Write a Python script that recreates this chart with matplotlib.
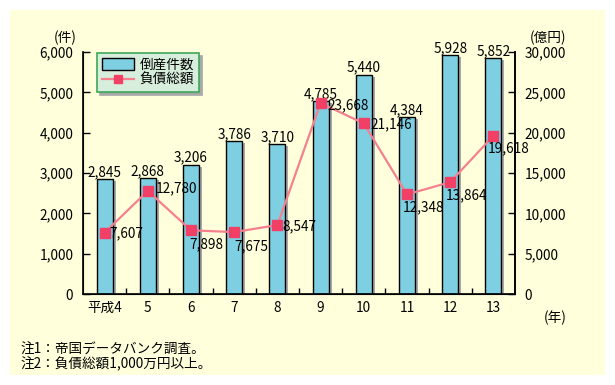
import numpy as np
import matplotlib
matplotlib.use('Agg')
import matplotlib.pyplot as plt
import matplotlib.patheffects as pe
from matplotlib.patches import Rectangle
from matplotlib.lines import Line2D
from matplotlib.ticker import FuncFormatter

plt.rcParams['font.family'] = ['Noto Sans CJK JP', 'DejaVu Sans']

# data
years = ['平成4', '5', '6', '7', '8', '9', '10', '11', '12', '13']
bankruptcies = [2845, 2868, 3206, 3786, 3710, 4785, 5440, 4384, 5928, 5852]
debt_total = [7607, 12780, 7898, 7675, 8547, 23668, 21146, 12348, 13864, 19618]

# label offsets for the line values (pixels, ha, va)
debt_label_pos = [(5, -1, 'left', 'center'), (8, 3, 'left', 'center'),
                  (-2, -7, 'left', 'top'), (0, -7, 'left', 'top'),
                  (5, -1, 'left', 'center'), (7, -2, 'left', 'center'),
                  (7, -1, 'left', 'center'), (-4, -6, 'left', 'top'),
                  (-4, -6, 'left', 'top'), (-6, -6, 'left', 'top')]

bar_color = '#7ECFE2'
line_color = '#F5808E'
marker_color = '#F23F66'
bg = '#FFFFDC'
fs = 9.8

fig = plt.figure(figsize=(6.15, 3.85), dpi=100)
fig.patch.set_facecolor('white')
fig.patches.append(Rectangle((10 / 615, 1 - 375 / 385), 595 / 615, 365 / 385,
                             transform=fig.transFigure, facecolor=bg,
                             edgecolor='none', zorder=-10))

ax = fig.add_axes([83 / 615, 1 - 294 / 385, 432 / 615, 242 / 385])
ax.set_zorder(1)
ax.set_facecolor('none')
x = np.arange(len(years))

bars = ax.bar(x, bankruptcies, width=0.37, color=bar_color, edgecolor='black',
              linewidth=1, zorder=2)
for b in bars:
    b.set_path_effects([pe.SimplePatchShadow(offset=(2.2, -1.5), shadow_rgbFace='#A8A8A8', alpha=1),
                        pe.Normal()])
for xi, v in zip(x, bankruptcies):
    ax.annotate(f'{v:,}', (xi, v), xytext=(0, 0), textcoords='offset pixels',
                ha='center', va='bottom', fontsize=fs, zorder=5)

ax.set_xlim(-0.5, len(years) - 0.5)
ax.set_ylim(0, 6000)
ax.set_yticks(np.arange(0, 6001, 1000))
ax.yaxis.set_major_formatter(FuncFormatter(lambda v, p: f'{int(v):,}'))
ax.set_xticks(x)
ax.set_xticklabels(years)
ax.set_xticks(np.arange(0.5, len(years) - 0.5, 1), minor=True)
ax.tick_params(axis='x', which='major', length=0, pad=5, labelsize=fs)
ax.tick_params(axis='x', which='minor', direction='in', length=4, width=1)
ax.tick_params(axis='y', direction='in', length=5, width=1, pad=7, labelsize=fs)
ax.spines['top'].set_visible(False)
for s in ['left', 'bottom', 'right']:
    ax.spines[s].set_linewidth(1.2)

ax2 = ax.twinx()
ax2.set_zorder(2)
ax2.set_facecolor('none')
ax2.set_ylim(0, 30000)
ax2.set_yticks(np.arange(0, 30001, 5000))
ax2.yaxis.set_major_formatter(FuncFormatter(lambda v, p: f'{int(v):,}'))
ax2.tick_params(axis='y', direction='in', length=5, width=1, pad=7, labelsize=fs)
ax2.spines['top'].set_visible(False)
ax2.spines['right'].set_linewidth(1.2)
ax2.plot(x, debt_total, color=line_color, linewidth=1.6, marker='s',
         markersize=7, markerfacecolor=marker_color, markeredgecolor=marker_color,
         zorder=3)
for xi, v, (dx, dy, ha, va) in zip(x, debt_total, debt_label_pos):
    ax2.annotate(f'{v:,}', (xi, v), xytext=(dx, dy), textcoords='offset pixels',
                 ha=ha, va=va, fontsize=fs, zorder=4)

handles = [Rectangle((0, 0), 1, 1, facecolor=bar_color, edgecolor='black', linewidth=1),
           Line2D([], [], color=line_color, linewidth=1.6, marker='s', markersize=6,
                  markerfacecolor=marker_color, markeredgecolor=marker_color)]
leg = ax2.legend(handles, ['倒産件数', '負債総額'], loc='upper left',
                 bbox_to_anchor=(0.032, 0.996), borderaxespad=0, fancybox=False,
                 shadow={'color': '#A8A8A8', 'alpha': 1}, frameon=True, fontsize=fs,
                 handlelength=2.4, handleheight=1.0, labelspacing=0.1,
                 borderpad=0.35, handletextpad=0.4)
leg.get_frame().set_facecolor('#D8EEDC')
leg.get_frame().set_edgecolor('#3EA858')
leg.get_frame().set_linewidth(1.2)
leg.set_zorder(10)

fig.text(65 / 615, 1 - 38 / 385, '(件)', ha='center', va='center', fontsize=fs)
fig.text(548 / 615, 1 - 38 / 385, '(億円)', ha='center', va='center', fontsize=fs)
fig.text(555 / 615, 1 - 318 / 385, '(年)', ha='center', va='center', fontsize=fs)
fig.text(20 / 615, 1 - 350 / 385, '注1：帝国データバンク調査。', ha='left', va='center', fontsize=fs)
fig.text(20 / 615, 1 - 364 / 385, '注2：負債総額1,000万円以上。', ha='left', va='center', fontsize=fs)

fig.savefig('out.png', dpi=100, facecolor=fig.get_facecolor())
